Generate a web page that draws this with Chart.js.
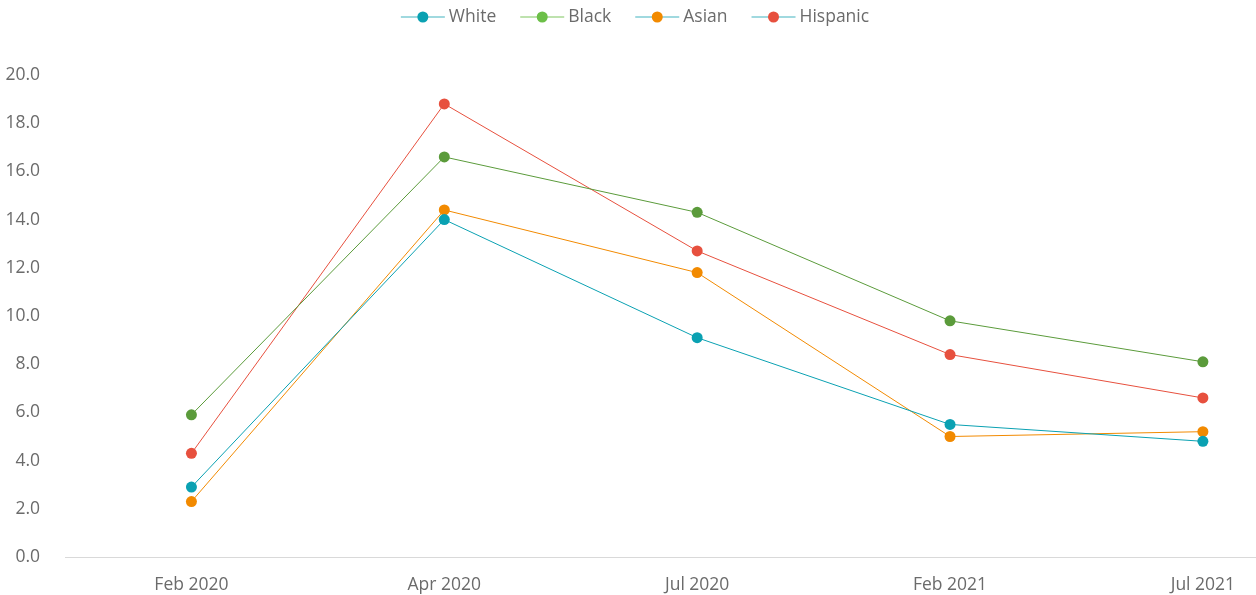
<!DOCTYPE html>
<html>
<head>
<meta charset="utf-8">
<script src="https://cdn.jsdelivr.net/npm/chart.js@4"></script>
<style>
  html, body { margin: 0; padding: 0; background: #fff; }
  #wrap { width: 1256px; height: 595px; position: relative; }
</style>
</head>
<body>
<div id="wrap"><canvas id="chart"></canvas></div>
<script>
// Survey periods and rates per group
const periods = ['Feb 2020', 'Apr 2020', 'Jul 2020', 'Feb 2021', 'Jul 2021'];
const white = [2.9, 14.0, 9.1, 5.5, 4.8];
const black = [5.9, 16.6, 14.3, 9.8, 8.1];
const asian = [2.3, 14.4, 11.8, 5.0, 5.2];
const hispanic = [4.3, 18.8, 12.7, 8.4, 6.6];

const FONT = '"Open Sans", Lato, sans-serif';
const TEXT = '#6b6b6b';

function series(label, values, color, legendLine, legendDot) {
    return {
        label: label,
        data: values.map((v, i) => ({ x: i, y: v })),
        borderColor: color,
        backgroundColor: color,
        borderWidth: 1,
        pointRadius: 5.5,
        pointHoverRadius: 6,
        pointBorderWidth: 0,
        legendLine: legendLine,
        legendDot: legendDot,
        tension: 0
    };
}

// legend row: short line with a dot in the middle, then the label
const lineLegend = {
    id: 'lineLegend',
    afterDraw(chart) {
        const ctx = chart.ctx;
        const sets = chart.data.datasets;
        const lineW = 44, gap = 4, spacing = 24, y = 17;
        ctx.save();
        ctx.font = '17.5px ' + FONT;
        const widths = sets.map(ds => ctx.measureText(ds.label).width);
        let total = 0;
        widths.forEach(w => { total += lineW + gap + w; });
        total += spacing * (sets.length - 1);
        let x = 635 - total / 2;
        sets.forEach((ds, i) => {
            ctx.strokeStyle = ds.legendLine;
            ctx.lineWidth = 1.5;
            ctx.beginPath();
            ctx.moveTo(x, y);
            ctx.lineTo(x + lineW, y);
            ctx.stroke();
            ctx.fillStyle = ds.legendDot;
            ctx.beginPath();
            ctx.arc(x + lineW / 2, y, 5.5, 0, Math.PI * 2);
            ctx.fill();
            ctx.fillStyle = TEXT;
            ctx.textBaseline = 'middle';
            ctx.textAlign = 'left';
            ctx.fillText(ds.label, x + lineW + gap, y + 0.5);
            x += lineW + gap + widths[i] + spacing;
        });
        ctx.restore();
    }
};

new Chart(document.getElementById('chart'), {
    type: 'line',
    data: {
        datasets: [
            series('White', white, '#0aa1b2', '#80ccd4', '#0aa1b2'),
            series('Black', black, '#5b9b3b', '#a9d993', '#6cbf48'),
            series('Asian', asian, '#f28a00', '#80ccd4', '#f28a00'),
            series('Hispanic', hispanic, '#e7503e', '#80ccd4', '#e7503e')
        ]
    },
    options: {
        responsive: true,
        maintainAspectRatio: false,
        animation: false,
        layout: {
            autoPadding: false,
            padding: { top: 75, right: 0, left: 0, bottom: 0 }
        },
        plugins: {
            tooltip: { enabled: false },
            legend: { display: false }
        },
        scales: {
            x: {
                type: 'linear',
                min: -0.5,
                max: 4.21,
                afterBuildTicks(scale) {
                    scale.ticks = periods.map((p, i) => ({ value: i }));
                },
                afterFit(scale) {
                    scale.height = 38;
                    scale.paddingLeft = 0;
                    scale.paddingRight = 0;
                },
                grid: { display: false },
                border: { display: true, color: '#d9d9d9', width: 1 },
                ticks: {
                    color: TEXT,
                    font: { family: FONT, size: 17.5 },
                    padding: 10,
                    maxRotation: 0,
                    callback: (v) => periods[v] || ''
                }
            },
            y: {
                min: 0,
                max: 20,
                afterFit(scale) { scale.width = 65; },
                grid: { display: false },
                border: { display: false },
                ticks: {
                    stepSize: 2,
                    color: TEXT,
                    font: { family: FONT, size: 17.5 },
                    padding: 17,
                    callback: (v) => v.toFixed(1)
                }
            }
        }
    },
    plugins: [lineLegend]
});
</script>
</body>
</html>
